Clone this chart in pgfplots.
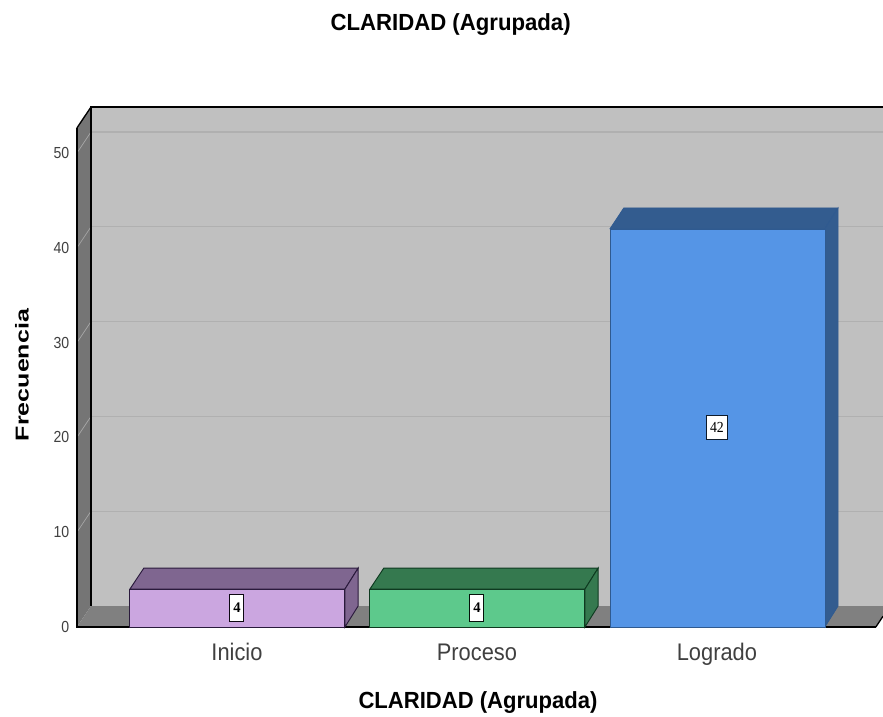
\documentclass[border=0pt]{standalone}
\usepackage{pgfplots}
\pgfplotsset{compat=1.18}
\usepackage{fontspec}
\setmainfont{Liberation Sans}
\newfontfamily\serifnum{Liberation Serif}
\definecolor{wallback}{HTML}{C0C0C0}
\definecolor{wallside}{HTML}{757575}
\definecolor{floorc}{HTML}{808080}
\definecolor{gridc}{HTML}{B0B0B0}
\definecolor{sidegrid}{HTML}{A8A8A8}
\definecolor{pf}{HTML}{CBA6E0}
\definecolor{pt}{HTML}{7F6690}
\definecolor{pl}{HTML}{2A1A3C}
\definecolor{gf}{HTML}{5DC98C}
\definecolor{gt}{HTML}{35794F}
\definecolor{gl}{HTML}{0E3A20}
\definecolor{bf}{HTML}{5595E6}
\definecolor{bt}{HTML}{335C8F}
\definecolor{bl}{HTML}{2F5A90}
\newcommand{\yl}[1]{\scalebox{0.88}[1]{#1}}
\newcommand{\xl}[1]{\scalebox{0.91}[1]{#1}}
\begin{document}
\begin{tikzpicture}
\path[use as bounding box,fill=white] (0,0) rectangle (662.25pt,537.75pt);
\begin{axis}[
  at={(55.5pt,65.25pt)}, anchor=south west,
  scale only axis, width=606.75pt, height=394.5pt,
  xmin=-0.679, xmax=2.692, ymin=-0.316, ymax=55.17,
  axis line style={draw=none}, tick style={draw=none},
  xtick={0,1,2}, xticklabels={\xl{Inicio},\xl{Proceso},\xl{Logrado}},
  ytick={0,10,20,30,40,50}, yticklabels={\yl{0},\yl{10},\yl{20},\yl{30},\yl{40},\yl{50}},
  yticklabel style={font=\fontsize{12pt}{14pt}\selectfont, text=black!75, xshift=0pt},
  xticklabel style={font=\fontsize{18pt}{20pt}\selectfont, text=black!75, yshift=-6pt, text height=13pt, text depth=0pt},
]
% walls and floor
\addplot[fill=wallback,draw=none] coordinates {(-0.6083,2.215)(2.692,2.215)(2.692,54.85)(-0.6083,54.85)} --cycle;
\addplot[fill=wallside,draw=none] coordinates {(-0.6667,0)(-0.6083,2.215)(-0.6083,54.85)(-0.6667,52.64)} --cycle;
\addplot[fill=floorc,draw=none] coordinates {(-0.6667,0)(-0.6083,2.215)(2.72,2.215)(2.662,0)} --cycle;
% gridlines on back wall
\addplot[gridc,line width=0.9pt] coordinates {(-0.6083,12.215)(2.692,12.215)};
\addplot[gridc,line width=0.9pt] coordinates {(-0.6083,22.215)(2.692,22.215)};
\addplot[gridc,line width=0.9pt] coordinates {(-0.6083,32.215)(2.692,32.215)};
\addplot[gridc,line width=0.9pt] coordinates {(-0.6083,42.215)(2.692,42.215)};
\addplot[gridc,line width=0.9pt] coordinates {(-0.6083,52.215)(2.692,52.215)};
% gridlines on side wall
\addplot[sidegrid,line width=0.5pt] coordinates {(-0.6667,10)(-0.6083,12.215)};
\addplot[sidegrid,line width=0.5pt] coordinates {(-0.6667,20)(-0.6083,22.215)};
\addplot[sidegrid,line width=0.5pt] coordinates {(-0.6667,30)(-0.6083,32.215)};
\addplot[sidegrid,line width=0.5pt] coordinates {(-0.6667,40)(-0.6083,42.215)};
\addplot[sidegrid,line width=0.5pt] coordinates {(-0.6667,50)(-0.6083,52.215)};
% frame
\addplot[black,line width=1.2pt] coordinates {(-0.6083,2.215)(-0.6083,54.85)(2.692,54.85)};
\addplot[black,line width=1.0pt] coordinates {(-0.6667,52.64)(-0.6083,54.85)};
\addplot[black,line width=1.0pt] coordinates {(2.662,0)(-0.6667,0)(-0.6667,52.64)};
\addplot[black,line width=1.0pt] coordinates {(2.662,0)(2.692,1.13)};
% Inicio
\addplot[fill=pt,draw=pl,line width=0.7pt] coordinates {(-0.446,4)(0.45,4)(0.505,6.215)(-0.388,6.215)} --cycle;
\addplot[fill=pt,draw=pl,line width=0.7pt] coordinates {(0.45,0)(0.505,2.215)(0.505,6.215)(0.45,4)} --cycle;
\addplot[ybar,bar width=0.896,bar shift=0.002,fill=pf,draw=pl,line width=0.7pt] coordinates {(0,4)};
% Proceso
\addplot[fill=gt,draw=gl,line width=0.7pt] coordinates {(0.554,4)(1.45,4)(1.505,6.215)(0.612,6.215)} --cycle;
\addplot[fill=gt,draw=gl,line width=0.7pt] coordinates {(1.45,0)(1.505,2.215)(1.505,6.215)(1.45,4)} --cycle;
\addplot[ybar,bar width=0.896,bar shift=0.002,fill=gf,draw=gl,line width=0.7pt] coordinates {(1,4)};
% Logrado
\addplot[fill=bt,draw=bl,line width=0.5pt] coordinates {(1.554,42)(2.45,42)(2.505,44.215)(1.612,44.215)} --cycle;
\addplot[fill=bt,draw=bl,line width=0.5pt] coordinates {(2.45,0)(2.505,2.215)(2.505,44.215)(2.45,42)} --cycle;
\addplot[ybar,bar width=0.896,bar shift=0.002,fill=bf,draw=bl,line width=0.5pt] coordinates {(2,42)};
% value labels
\node[fill=white,draw=black!70!pl,line width=0.8pt,inner sep=0pt,minimum width=10.5pt,minimum height=20pt,font=\serifnum\bfseries\fontsize{11pt}{12pt}\selectfont] at (axis cs:0,2) {4};
\node[fill=white,draw=black!70!gl,line width=0.8pt,inner sep=0pt,minimum width=10.5pt,minimum height=20pt,font=\serifnum\bfseries\fontsize{11pt}{12pt}\selectfont] at (axis cs:1,2) {4};
\node[fill=white,draw=black!70!bl,line width=0.8pt,inner sep=0pt,minimum width=16pt,minimum height=18pt,font=\serifnum\fontsize{11.5pt}{12pt}\selectfont] at (axis cs:2,21) {\scalebox{0.9}[1]{42}};
\end{axis}
\node[font=\bfseries\fontsize{17.5pt}{20pt}\selectfont] at (338pt,519pt) {\scalebox{0.95}[1]{CLARIDAD (Agrupada)}};
\node[font=\bfseries\fontsize{17.5pt}{20pt}\selectfont] at (358.5pt,11pt) {\scalebox{0.945}[1]{CLARIDAD (Agrupada)}};
\node[rotate=90,font=\bfseries\fontsize{14pt}{16pt}\selectfont] at (16.5pt,256.5pt) {\scalebox{1.34}[1]{Frecuencia}};
\end{tikzpicture}
\end{document}
